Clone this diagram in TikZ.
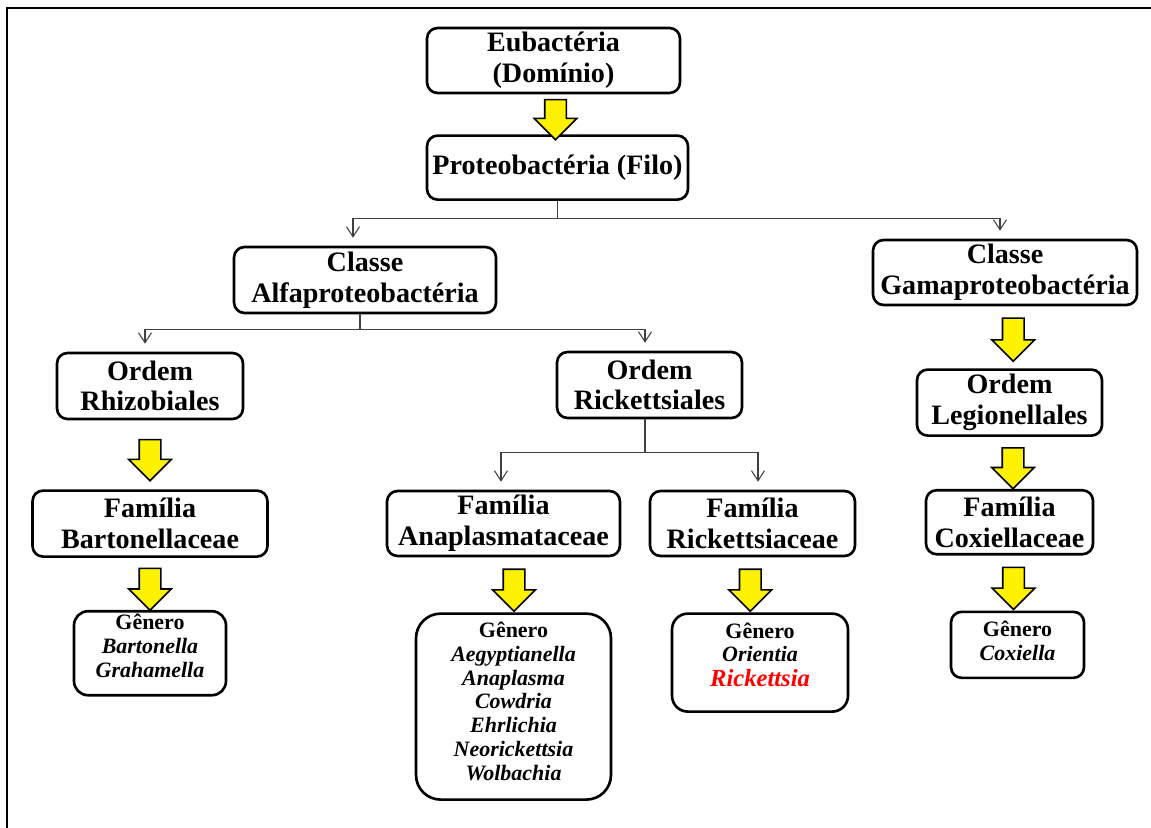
\documentclass[tikz,border=0pt]{standalone}
\usepackage{fontspec}
\setmainfont{Liberation Serif}
\usetikzlibrary{calc,positioning,arrows.meta,shapes.arrows}
\newcommand{\liftlines}[2]{\raisebox{#1}[\height][\depth]{\begin{tabular}{@{}c@{}}#2\end{tabular}}}

\begin{document}
\begin{tikzpicture}[
  x=0.02cm, y=-0.02cm,
  box/.style={draw, line width=1.5pt, rounded corners=6pt, align=center, inner sep=2pt,
    font=\bfseries\fontsize{16}{17.5}\selectfont},
  genbox/.style={box, font=\bfseries\fontsize{12.5}{13.5}\selectfont},
  conn/.style={-{Straight Barb[length=2mm,width=2.6mm]}, line width=0.6pt, draw=black!75, shorten >=0.16cm},
  yarr/.style={single arrow, draw, fill=yellow, line width=0.9pt, shape border rotate=270,
    inner sep=0.2cm, single arrow head extend=0.21cm}
]
\useasboundingbox (0,0) rectangle (1151,827);
\draw[line width=1.3pt] (7,840) -- (7,8) -- (1160,8);

\node[box, minimum width=5.06cm, minimum height=1.3cm] (eub) at (553.5,60.5) {Eubactéria\\(Domínio)};
\node[box, minimum width=5.22cm, minimum height=1.28cm, below=0.8cm of eub, xshift=0.08cm] (proteo) {Proteobactéria (Filo)};
\node[box, minimum width=5.24cm, minimum height=1.32cm] (alfa) at (365,280) {Classe\\Alfaproteobactéria};
\node[box, minimum width=5.28cm, minimum height=1.3cm] (gama) at (1005,272.5) {Classe\\Gamaproteobactéria};
\node[box, minimum width=3.72cm, minimum height=1.32cm] (rhiz) at (150,386) {Ordem\\Rhizobiales};
\node[box, minimum width=3.7cm, minimum height=1.32cm] (rickord) at (649.5,385) {Ordem\\Rickettsiales};
\node[box, minimum width=3.7cm, minimum height=1.32cm, below=1.24cm of gama, xshift=0.09cm] (leg) {Ordem\\Legionellales};
\node[box, minimum width=4.7cm, minimum height=1.32cm, below=1.38cm of rhiz] (bart) {Família\\Bartonellaceae};
\node[box, minimum width=4.66cm, minimum height=1.3cm] (anap) at (503.5,523.5) {Família\\Anaplasmataceae};
\node[box, minimum width=4.1cm, minimum height=1.3cm] (rickfam) at (752.5,523.5) {Família\\Rickettsiaceae};
\node[box, minimum width=3.34cm, minimum height=1.28cm, below=1.04cm of leg] (cox) {Família\\Coxiellaceae};

\node[genbox, rounded corners=8pt, minimum width=3.04cm, minimum height=1.68cm, below=1.04cm of bart] (gbart)
  {\liftlines{2.6pt}{Gênero\\\textit{Bartonella}\\\textit{Grahamella}}};
\node[genbox, rounded corners=14pt, minimum width=3.9cm, minimum height=3.72cm, below=1.1cm of anap, xshift=0.2cm] (ganap)
  {\liftlines{1.4pt}{Gênero\\\textit{Aegyptianella}\\\textit{Anaplasma}\\\textit{Cowdria}\\\textit{Ehrlichia}\\\textit{Neorickettsia}\\\textit{Wolbachia}}};
\node[genbox, rounded corners=9pt, minimum width=3.52cm, minimum height=1.96cm, below=1.1cm of rickfam, xshift=0.15cm] (grick)
  {\liftlines{3pt}{Gênero\\\textit{Orientia}\\\textcolor{red}{\fontsize{14}{15}\selectfont\bfseries\itshape Rickettsia}}};
\node[genbox, minimum width=2.66cm, minimum height=1.32cm, below=1.1cm of cox, xshift=0.16cm] (gcox)
  {\liftlines{0.5pt}{Gênero\\\textit{Coxiella}}};

\node[yarr, minimum height=0.8cm] (y1) at ($(eub.south)!0.5!(proteo.north)$) {};
\node[yarr, minimum height=0.86cm, xshift=0.12cm, yshift=0.06cm] (y2) at ($(gama.south)!0.5!(leg.north)$) {};
\node[yarr, minimum height=0.82cm] (y3) at ($(rhiz.south)!0.5!(bart.north)$) {};
\node[yarr, minimum height=0.82cm, xshift=0.07cm] (y4) at ($(leg.south)!0.5!(cox.north)$) {};
\node[yarr, minimum height=0.84cm] (y5) at ($(bart.south)!0.5!(gbart.north)$) {};
\node[yarr, minimum height=0.84cm, xshift=0.11cm] (y6) at ($(anap.south)!0.5!(ganap.north)$) {};
\node[yarr, minimum height=0.84cm, xshift=-0.12cm] (y7) at ($(rickfam.south)!0.5!(grick.north)$) {};
\node[yarr, minimum height=0.84cm] (y8) at ($(cox.south)!0.5!(gcox.north)$) {};

\draw[conn] (proteo.south) -- ++(0,18) coordinate (pj) -| ([xshift=-0.24cm]alfa.north);
\draw[conn] (pj) -| ([xshift=-0.1cm]gama.north);
\draw[conn] ([xshift=-0.1cm]alfa.south) -- ++(0,15) coordinate (aj) -| ([xshift=-0.1cm]rhiz.north);
\draw[conn] (aj) -| ([xshift=-0.09cm]rickord.north);
\draw[conn] ([xshift=-0.09cm]rickord.south) -- ++(0,33) coordinate (rj) -| ([xshift=-0.05cm]anap.north);
\draw[conn] (rj) -| ([xshift=0.11cm]rickfam.north);
\end{tikzpicture}
\end{document}
